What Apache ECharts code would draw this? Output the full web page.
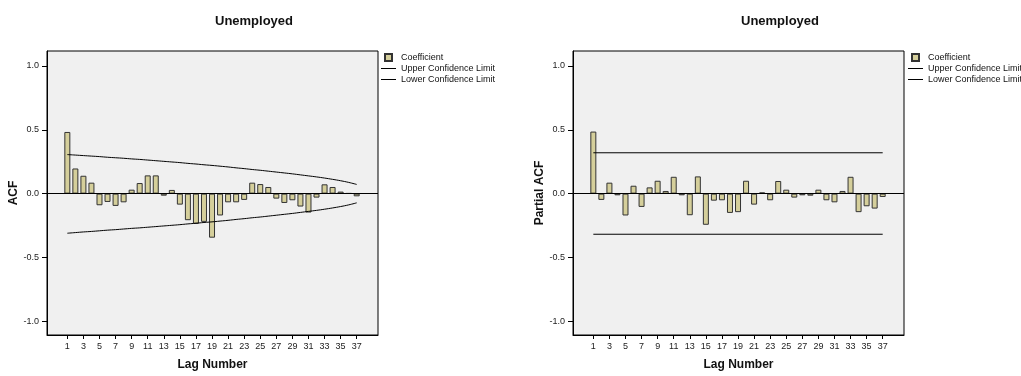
<!DOCTYPE html>
<html>
<head>
<meta charset="utf-8">
<script src="https://cdn.jsdelivr.net/npm/echarts@6/dist/echarts.min.js"></script>
<style>
  html, body { margin: 0; padding: 0; background: #fff; }
  #main { width: 1021px; height: 376px; }
</style>
</head>
<body>
<div id="main"></div>
<script>
// lag numbers and tick labels
var lags = [1,2,3,4,5,6,7,8,9,10,11,12,13,14,15,16,17,18,19,20,21,22,23,24,25,26,27,28,29,30,31,32,33,34,35,36,37];
var lagTicks = [1,3,5,7,9,11,13,15,17,19,21,23,25,27,29,31,33,35,37];
var yTicks = [-1, -0.5, 0, 0.5, 1];

// ACF coefficients
var acfValues = [0.483,0.197,0.140,0.086,-0.091,-0.065,-0.096,-0.068,0.031,0.083,
                 0.143,0.143,-0.016,0.029,-0.086,-0.208,-0.236,-0.221,-0.345,-0.171,
                 -0.068,-0.068,-0.049,0.086,0.075,0.052,-0.039,-0.073,-0.052,-0.101,
                 -0.148,-0.031,0.073,0.052,0.016,0.003,-0.021];
var acfUpper = [0.306,0.302,0.298,0.294,0.290,0.285,0.281,0.277,0.272,0.268,
                0.263,0.258,0.253,0.248,0.243,0.237,0.232,0.226,0.221,0.215,
                0.209,0.202,0.196,0.189,0.183,0.176,0.169,0.162,0.155,0.147,
                0.139,0.131,0.122,0.112,0.101,0.088,0.072];
var acfLower = [-0.310,-0.305,-0.300,-0.296,-0.291,-0.286,-0.282,-0.277,-0.272,-0.268,
                -0.263,-0.258,-0.253,-0.248,-0.243,-0.237,-0.232,-0.226,-0.221,-0.215,
                -0.209,-0.202,-0.196,-0.189,-0.183,-0.176,-0.169,-0.162,-0.155,-0.147,
                -0.139,-0.131,-0.122,-0.112,-0.101,-0.088,-0.072];

// partial ACF coefficients
var pacfValues = [0.486,-0.049,0.086,-0.013,-0.171,0.062,-0.104,0.049,0.101,0.021,
                  0.132,-0.013,-0.169,0.135,-0.244,-0.055,-0.052,-0.151,-0.145,0.101,
                  -0.086,0.010,-0.052,0.099,0.031,-0.031,-0.013,-0.016,0.031,-0.052,
                  -0.068,0.021,0.132,-0.145,-0.099,-0.117,-0.026];
var limitLags = [1, 37];
var pacfUpper = [0.32, 0.32];
var pacfLower = [-0.318, -0.318];

var barColor = '#d5cf9b';
var names = ['Coefficient', 'Upper Confidence Limit', 'Lower Confidence Limit'];

function pairs(xs, ys) {
    return xs.map(function (x, i) { return [x, ys[i]]; });
}

function makeX(idx) {
    return {
        gridIndex: idx, type: 'value', min: -1.53, max: 39.65,
        splitLine: { show: false },
        axisLine: { show: true, onZero: false, lineStyle: { color: '#000', width: 1 } },
        axisTick: { show: true, length: 4, customValues: lagTicks, lineStyle: { color: '#000' } },
        axisLabel: { customValues: lagTicks, fontSize: 9, color: '#222', margin: 7, fontFamily: 'Liberation Sans' },
        name: 'Lag Number', nameLocation: 'middle', nameGap: 24,
        nameTextStyle: { fontSize: 12, fontWeight: 'bold', color: '#111', fontFamily: 'Liberation Sans' }
    };
}

function makeY(idx, name) {
    return {
        gridIndex: idx, type: 'value', min: -1.107, max: 1.117,
        splitLine: { show: false },
        axisLine: { show: true, onZero: false, lineStyle: { color: '#000', width: 1 } },
        axisTick: { show: true, length: 5, customValues: yTicks, lineStyle: { color: '#000' } },
        axisLabel: {
            customValues: yTicks, fontSize: 9, color: '#222', margin: 8, fontFamily: 'Liberation Sans',
            formatter: function (v) { return v.toFixed(1); }
        },
        name: name, nameLocation: 'middle', nameGap: 26,
        nameTextStyle: { fontSize: 12, fontWeight: 'bold', color: '#111', fontFamily: 'Liberation Sans' }
    };
}

// legend: square for the bars, thin line for the limits
function makeLegend(left) {
    return {
        orient: 'vertical', left: left, top: 53, padding: 0,
        itemWidth: 15, itemHeight: 7, itemGap: 2,
        textStyle: { fontSize: 9, lineHeight: 9, color: '#111', fontFamily: 'Liberation Sans' },
        data: [
            { name: names[0], icon: 'path://M0,0H10V10H0Z' },
            { name: names[1], icon: 'path://M0,0H15V1H0Z' },
            { name: names[2], icon: 'path://M0,0H15V1H0Z' }
        ]
    };
}

function barSeries(idx, values) {
    return {
        name: names[0], type: 'bar', xAxisIndex: idx, yAxisIndex: idx,
        barWidth: 6, data: pairs(lags, values),
        itemStyle: { color: barColor, borderColor: '#333', borderWidth: 1 },
        markLine: {
            silent: true, symbol: 'none', label: { show: false },
            lineStyle: { color: '#000', width: 1, type: 'solid' },
            data: [{ yAxis: 0 }]
        },
        z: 2
    };
}

function lineSeries(idx, name, xs, ys, smooth) {
    return {
        name: name, type: 'line', xAxisIndex: idx, yAxisIndex: idx,
        data: pairs(xs, ys), symbol: 'none', smooth: smooth,
        lineStyle: { color: '#000', width: 1 }, itemStyle: { color: '#000' }, z: 3
    };
}

var myChart = echarts.init(document.getElementById('main'));

var option = {
    backgroundColor: '#fff',
    animation: false,
    title: [
        { text: 'Unemployed', left: 210, top: 10, textStyle: { fontSize: 13, fontWeight: 'bold', color: '#111', fontFamily: 'Liberation Sans' } },
        { text: 'Unemployed', left: 736, top: 10, textStyle: { fontSize: 13, fontWeight: 'bold', color: '#111', fontFamily: 'Liberation Sans' } }
    ],
    legend: [makeLegend(381), makeLegend(908)],
    grid: [
        { left: 47, top: 51, width: 331, height: 285, show: true, backgroundColor: '#f0f0f0', borderColor: '#000', borderWidth: 1 },
        { left: 573, top: 51, width: 331, height: 285, show: true, backgroundColor: '#f0f0f0', borderColor: '#000', borderWidth: 1 }
    ],
    xAxis: [makeX(0), makeX(1)],
    yAxis: [makeY(0, 'ACF'), makeY(1, 'Partial ACF')],
    series: [
        barSeries(0, acfValues),
        lineSeries(0, names[1], lags, acfUpper, true),
        lineSeries(0, names[2], lags, acfLower, true),
        barSeries(1, pacfValues),
        lineSeries(1, names[1], limitLags, pacfUpper, false),
        lineSeries(1, names[2], limitLags, pacfLower, false)
    ]
};

myChart.setOption(option);
</script>
</body>
</html>
